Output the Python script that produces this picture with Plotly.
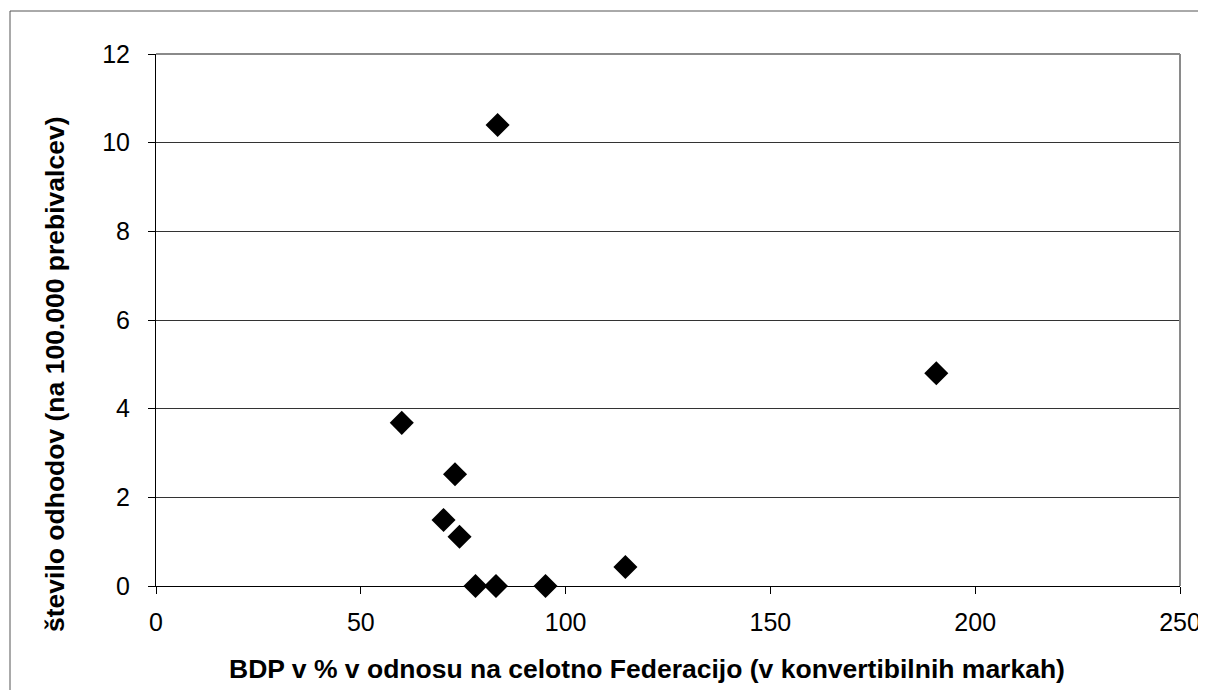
import plotly.graph_objects as go

# Data
bdp_pct = [60.0, 70.2, 73.0, 74.1, 78.0, 83.0, 83.4, 95.1, 114.6, 190.5]
odhodi = [3.68, 1.49, 2.52, 1.11, 0.0, 0.0, 10.40, 0.0, 0.43, 4.80]

x_ticks = [0, 50, 100, 150, 200, 250]
y_ticks = [0, 2, 4, 6, 8, 10, 12]

x_title = "BDP v % v odnosu na celotno Federacijo (v konvertibilnih markah)"
y_title = "število odhodov (na 100.000 prebivalcev)"

OFF = 8  # default page body margin
W, H = 1206 - OFF, 690 - OFF
L, R, T, B = 148, 26, 46, 104
PW, PH = W - L - R, H - T - B

def px(xp):
    # page pixel -> paper coordinate
    return (xp - OFF - L) / PW

def py(yp):
    return (H - B - (yp - OFF)) / PH

FONT = "Liberation Sans, Arial, sans-serif"

fig = go.Figure()
fig.add_trace(go.Scatter(
    x=bdp_pct, y=odhodi, mode="markers",
    marker=dict(symbol="diamond", size=18.5, color="black", line=dict(width=0)),
    showlegend=False, cliponaxis=False,
))

fig.update_layout(
    width=W, height=H,
    margin=dict(l=L, r=R, t=T, b=B, autoexpand=False),
    paper_bgcolor="white", plot_bgcolor="white",
    font=dict(family=FONT, color="black"),
    xaxis=dict(
        range=[0, 250], tickvals=x_ticks, ticktext=[str(v) for v in x_ticks],
        showgrid=False, zeroline=False, showline=True, linecolor="black", linewidth=1,
        ticks="outside", ticklen=7, tickcolor="black", tickwidth=1,
        tickfont=dict(size=25, family=FONT, color="black"),
        ticklabelstandoff=7,
    ),
    yaxis=dict(
        range=[0, 12], tickvals=y_ticks, ticktext=[str(v) for v in y_ticks],
        showgrid=True, gridcolor="#333333", gridwidth=1,
        zeroline=False, showline=True, linecolor="black", linewidth=1,
        ticks="outside", ticklen=7, tickcolor="black", tickwidth=1,
        tickfont=dict(size=25, family=FONT, color="black"),
        ticklabelstandoff=13,
    ),
    annotations=[
        dict(text="<b>" + x_title + "</b>", xref="paper", yref="paper",
             x=px(646.5), y=py(669), xanchor="center", yanchor="middle",
             showarrow=False, font=dict(size=26.5, family=FONT, color="black")),
        dict(text="<b>" + y_title + "</b>", xref="paper", yref="paper",
             x=px(55), y=py(375), xanchor="center", yanchor="middle", textangle=-90,
             showarrow=False, font=dict(size=26.5, family=FONT, color="black")),
    ],
    shapes=[
        # plot area top/right border (gray)
        dict(type="line", xref="paper", yref="paper", x0=0, x1=1, y0=1, y1=1,
             line=dict(color="#8a8a8a", width=2), layer="above"),
        dict(type="line", xref="paper", yref="paper", x0=1, x1=1, y0=0, y1=1,
             line=dict(color="#8a8a8a", width=2), layer="above"),
        # outer chart border
        dict(type="line", xref="paper", yref="paper", x0=px(10), x1=px(1215), y0=py(11), y1=py(11),
             line=dict(color="#555555", width=1)),
        dict(type="line", xref="paper", yref="paper", x0=px(10), x1=px(10), y0=py(11), y1=py(700),
             line=dict(color="#555555", width=1)),
    ],
)

fig.write_html("out.html")
